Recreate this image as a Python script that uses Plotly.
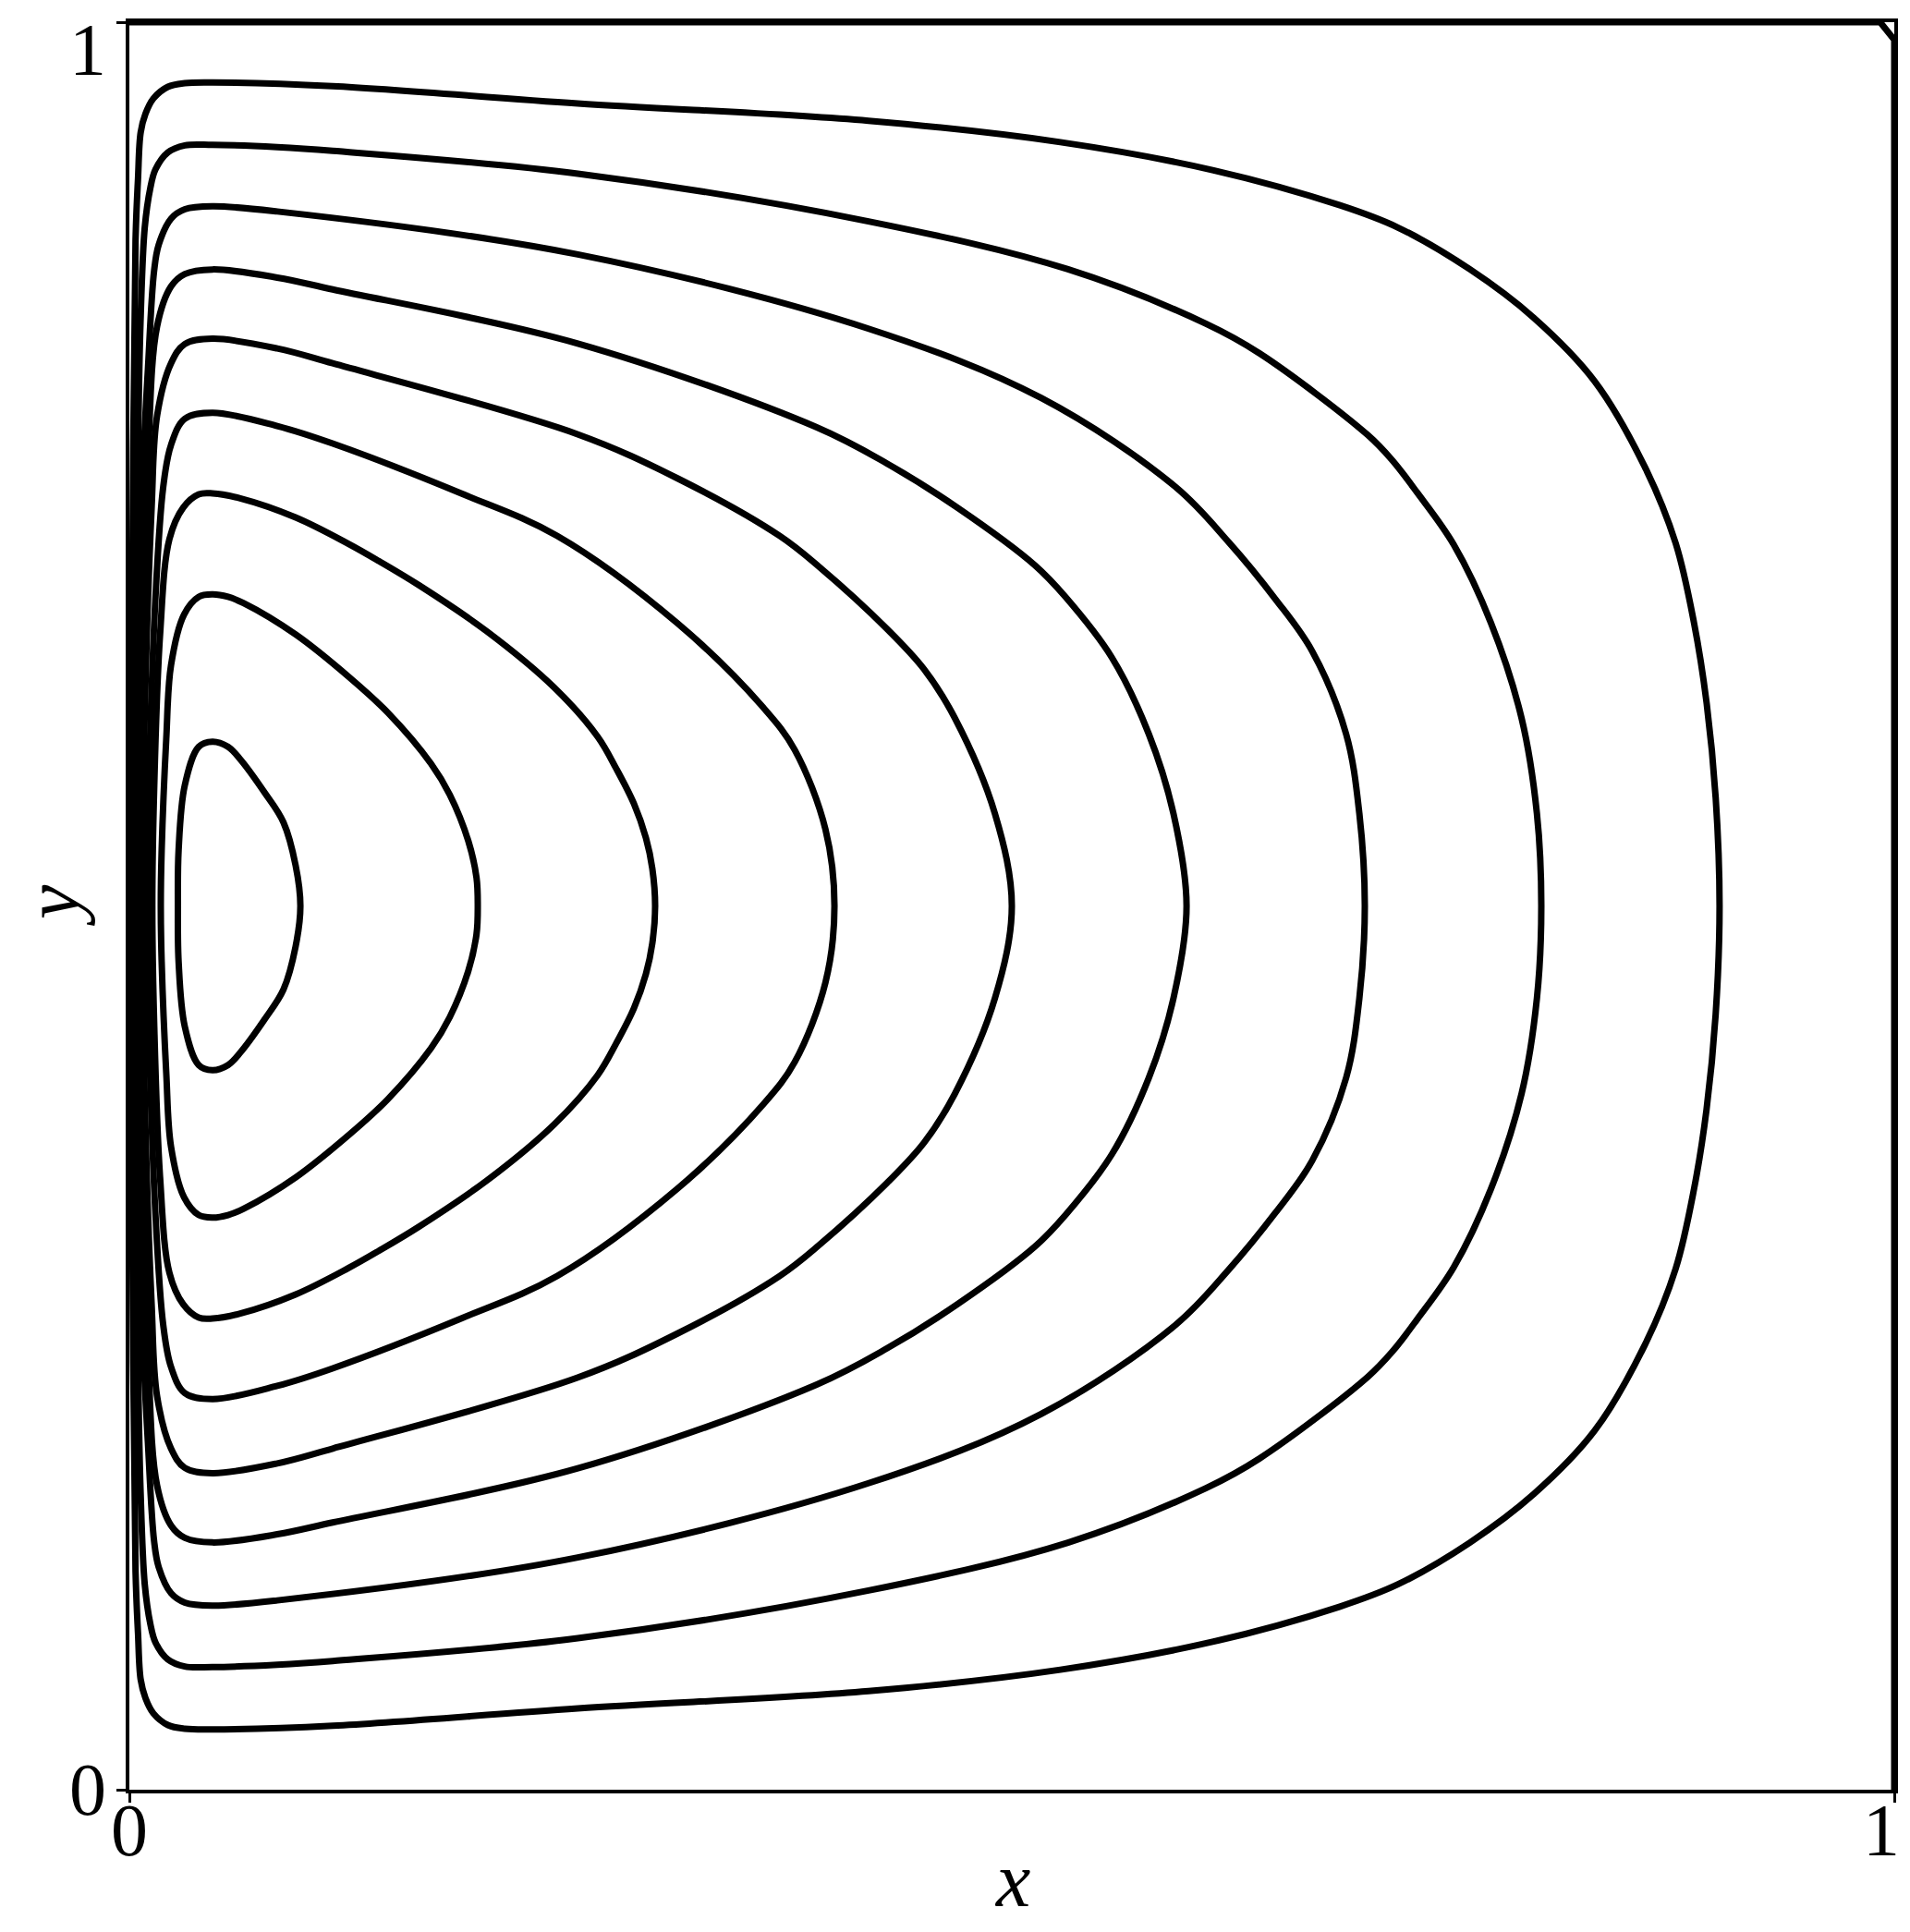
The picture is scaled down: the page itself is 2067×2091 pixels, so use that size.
import plotly.graph_objects as go

# streamline levels, innermost first
levels = [0.9, 0.8, 0.7, 0.6, 0.5, 0.4, 0.3, 0.2, 0.1]

# upper half of each closed streamline (left centre -> top -> right centre)
c09_x = [0.0275, 0.0279, 0.0314, 0.0393, 0.0471, 0.0559, 0.0628, 0.0768, 0.0873, 0.0942, 0.0969]
c09_y = [0.5, 0.5316, 0.5682, 0.5900, 0.5929, 0.5900, 0.5830, 0.5639, 0.5473, 0.5229, 0.5]

c08_x = [0.0178, 0.0183, 0.0209, 0.0236, 0.0310, 0.0393, 0.0471, 0.0559, 0.0646, 0.0942, 0.1248,
         0.1466, 0.1710, 0.1815, 0.1920, 0.1967, 0.1974]
c08_y = [0.5, 0.5316, 0.5944, 0.6362, 0.6649, 0.6749, 0.6763, 0.6749, 0.6714, 0.6536, 0.6292,
         0.6092, 0.5804, 0.5630, 0.5369, 0.5159, 0.5]

c07_x = [0.0130, 0.0141, 0.0174, 0.0227, 0.0305, 0.0393, 0.0471, 0.0628, 0.0942, 0.1239, 0.1414,
         0.1640, 0.2025, 0.2408, 0.2653, 0.2758, 0.2859, 0.2927, 0.2963, 0.2979]
c07_y = [0.5, 0.5682, 0.6536, 0.7076, 0.7254, 0.7329, 0.7334, 0.7306, 0.7198, 0.7050, 0.6951,
         0.6815, 0.6554, 0.6235, 0.5958, 0.5778, 0.5578, 0.5384, 0.5212, 0.5]

c06_x = [0.0098, 0.0110, 0.0147, 0.0192, 0.0236, 0.0314, 0.0471, 0.0838, 0.1152, 0.1880, 0.2424,
         0.3106, 0.3595, 0.3770, 0.3944, 0.3995]
c06_y = [0.5, 0.5682, 0.6728, 0.7372, 0.7608, 0.7756, 0.7790, 0.7715, 0.7616, 0.7334, 0.7094,
         0.6599, 0.6119, 0.5883, 0.5433, 0.5]

c05_x = [0.0074, 0.0084, 0.0126, 0.0157, 0.0236, 0.0314, 0.0471, 0.0838, 0.1152, 0.2539, 0.3106,
         0.3684, 0.3909, 0.4293, 0.4503, 0.4677, 0.4904, 0.5000]
c05_y = [0.5, 0.5944, 0.7250, 0.7773, 0.8070, 0.8179, 0.8209, 0.8154, 0.8070, 0.7669, 0.7419,
         0.7094, 0.6918, 0.6567, 0.6339, 0.6063, 0.5523, 0.5]

c04_x = [0.0054, 0.0068, 0.0105, 0.0157, 0.0236, 0.0314, 0.0471, 0.0838, 0.1152, 0.2541, 0.3892,
         0.4293, 0.4695, 0.5131, 0.5305, 0.5567, 0.5776, 0.5916, 0.5990]
c04_y = [0.5, 0.6205, 0.7512, 0.8279, 0.8505, 0.8575, 0.8601, 0.8555, 0.8488, 0.8182, 0.7709,
         0.7503, 0.7251, 0.6927, 0.6747, 0.6405, 0.5973, 0.5521, 0.5]

c03_x = [0.0038, 0.0052, 0.0079, 0.0105, 0.0140, 0.0166, 0.0236, 0.0314, 0.0471, 0.0838, 0.2541,
         0.4188, 0.5166, 0.5927, 0.6228, 0.6492, 0.6702, 0.6894, 0.6969, 0.7000]
c03_y = [0.5, 0.6466, 0.7512, 0.8035, 0.8592, 0.8740, 0.8888, 0.8941, 0.8958, 0.8929, 0.8686,
         0.8266, 0.7874, 0.7371, 0.7059, 0.6738, 0.6441, 0.5973, 0.5523, 0.5]

c02_x = [0.0024, 0.0037, 0.0052, 0.0063, 0.0087, 0.0119, 0.0148, 0.0218, 0.0314, 0.0471, 0.0838,
         0.1152, 0.2541, 0.4188, 0.5318, 0.6100, 0.6404, 0.7016, 0.7156, 0.7295, 0.7504, 0.7714,
         0.7888, 0.7975, 0.8000]
c02_y = [0.5, 0.6466, 0.7773, 0.8296, 0.8836, 0.9063, 0.9167, 0.9263, 0.9303, 0.9306, 0.9293,
         0.9272, 0.9143, 0.8873, 0.8602, 0.8294, 0.8126, 0.7665, 0.7521, 0.7341, 0.7044, 0.6603,
         0.6063, 0.5523, 0.5]

c01_x = [0.0011, 0.0018, 0.0035, 0.0049, 0.0064, 0.0091, 0.0136, 0.0218, 0.0314, 0.0471, 0.1152,
         0.2541, 0.4188, 0.5275, 0.6143, 0.6859, 0.7188, 0.7595, 0.7958, 0.8302, 0.8586, 0.8761,
         0.8865, 0.8936, 0.8988, 0.9010]
c01_y = [0.5, 0.6989, 0.8766, 0.9115, 0.9376, 0.9481, 0.9568, 0.9634, 0.9655, 0.9659, 0.9638,
         0.9540, 0.9442, 0.9321, 0.9162, 0.8964, 0.8838, 0.8602, 0.8327, 0.7969, 0.7485, 0.7053,
         0.6603, 0.6153, 0.5613, 0.5]

# zero streamline hugging the top and right walls
c00_x = [0.0, 0.992, 1.0, 1.0]
c00_y = [1.0, 1.0, 0.99, 0.0]

tick_vals = [0, 1]
tick_text = ["0", "1"]

halves = [(c09_x, c09_y), (c08_x, c08_y), (c07_x, c07_y), (c06_x, c06_y), (c05_x, c05_y),
          (c04_x, c04_y), (c03_x, c03_y), (c02_x, c02_y), (c01_x, c01_y)]

fig = go.Figure()

for lev, (hx, hy) in zip(levels, halves):
    # the gyre is symmetric about y = 0.5, close the loop with the mirrored lower half
    xs = list(hx) + list(hx[::-1][1:])
    ys = list(hy) + [1 - v for v in hy[::-1][1:]]
    fig.add_trace(go.Scatter(x=xs, y=ys, mode="lines", name=str(lev),
                             line=dict(color="black", width=7, shape="spline", smoothing=1.0),
                             showlegend=False))

fig.add_trace(go.Scatter(x=c00_x, y=c00_y, mode="lines", line=dict(color="black", width=7),
                         showlegend=False))

serif = "Liberation Serif"
axis_style = dict(range=[0, 1], tickvals=tick_vals, showticklabels=False, ticks="outside",
                  ticklen=10, tickwidth=3, tickcolor="black", showgrid=False, zeroline=False,
                  showline=True, linewidth=4, linecolor="black", mirror=True, automargin=False)
fig.update_xaxes(**axis_style)
fig.update_yaxes(**axis_style)

# tick labels placed by hand so the end ones stay on the page, as in the original
label_font = dict(family=serif, size=80, color="black")
for v, t in zip(tick_vals, tick_text):
    fig.add_annotation(text=t, x=v - 0.0075 * v, y=0.001, xref="x", yref="paper",
                       xanchor="center", yanchor="top", showarrow=False, font=label_font)
fig.add_annotation(text=tick_text[0], x=-0.012, y=tick_vals[0], xref="paper", yref="y",
                   xanchor="right", yanchor="middle", showarrow=False, font=label_font)
fig.add_annotation(text=tick_text[1], x=-0.012, y=1.0084, xref="paper", yref="paper",
                   xanchor="right", yanchor="top", showarrow=False, font=label_font)

fig.add_annotation(text="<i>x</i>", x=0.5, y=-0.0763, xref="paper", yref="paper",
                   xanchor="center", yanchor="bottom", showarrow=False,
                   font=dict(family=serif, size=84, color="black"))
fig.add_annotation(text="<i>y</i>", x=-0.0691, y=0.5, xref="paper", yref="paper", textangle=-90,
                   xanchor="left", yanchor="middle", showarrow=False,
                   font=dict(family=serif, size=84, color="black"))

# the page body adds an 8 px margin, so the figure is sized to sit inside the window
fig.update_layout(width=2051, height=2075, plot_bgcolor="white", paper_bgcolor="white",
                  margin=dict(l=132, r=9, t=16, b=146, autoexpand=False))

fig.write_html("out.html")
